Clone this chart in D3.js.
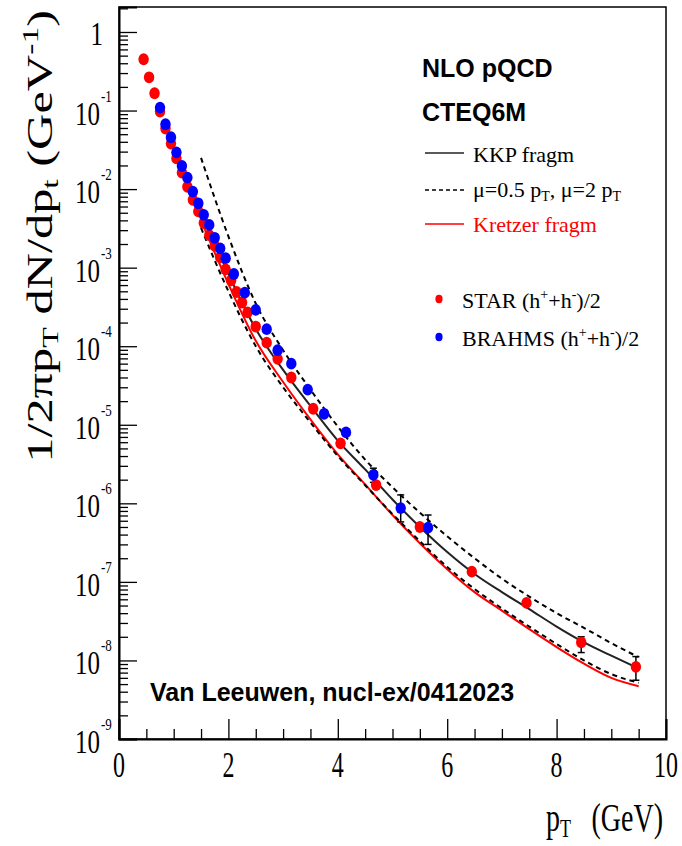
<!DOCTYPE html>
<html><head><meta charset="utf-8">
<script src="https://cdn.jsdelivr.net/npm/d3@7"></script>
<style>body{margin:0;background:#fff} svg{display:block}</style>
</head><body>
<svg id="chart" width="682" height="846"></svg>
<script>
// STAR (h+ + h-)/2
const starPt = [0.45,0.55,0.65,0.75,0.85,0.95,1.05,1.15,1.25,1.35,1.45,1.55,1.65,1.75,1.85,1.95,2.05,2.15,2.25,2.35,2.5,2.7,2.9,3.15,3.55,4.05,4.7,5.5,6.45,7.45,8.45,9.45];
const starY  = [0.45,0.265,0.166,0.097,0.059,0.038,0.0246,0.0162,0.0107,0.0073,0.0052,0.0037,0.0026,0.0019,0.00135,0.00095,0.00069,0.00049,0.00036,0.00027,0.000178,0.000111,6.9e-5,4.0e-5,1.6e-5,5.8e-6,1.71e-6,5.0e-7,1.35e-7,5.4e-8,1.7e-8,8.3e-9];
const starErrPt = [8.45, 9.45];
const starErrLo = [1.26e-8, 5.6e-9];
const starErrHi = [2.0e-8, 1.12e-8];

// BRAHMS (h+ + h-)/2
const brahmsPt = [0.75,0.85,0.95,1.05,1.15,1.25,1.35,1.45,1.55,1.65,1.75,1.85,1.95,2.1,2.3,2.5,2.7,2.9,3.15,3.45,3.75,4.15,4.65,5.15,5.65];
const brahmsY  = [0.109,0.067,0.0457,0.0294,0.0197,0.014,0.0093,0.0066,0.0047,0.0035,0.0024,0.00176,0.00132,0.00083,0.00048,0.00029,0.000165,8.9e-5,6.0e-5,2.8e-5,1.38e-5,8.0e-6,2.3e-6,8.7e-7,4.9e-7];
const brahmsErrPt = [4.65, 5.15, 5.65];
const brahmsErrLo = [1.85e-6, 5.8e-7, 3.0e-7];
const brahmsErrHi = [2.8e-6, 1.28e-6, 7.1e-7];

// NLO pQCD curves
const theoryPt = [1.5,2,2.5,3,3.5,4,4.5,5,5.5,6,6.5,7,7.5,8,8.5,9,9.5];
const kkp      = [5.0e-3,8.3e-4,1.66e-4,5.0e-5,1.74e-5,6.3e-6,2.7e-6,1.12e-6,5.0e-7,2.4e-7,1.26e-7,7.4e-8,4.5e-8,2.7e-8,1.7e-8,1.15e-8,7.9e-9];
const kretzer  = [4.0e-3,6.2e-4,1.17e-4,3.5e-5,1.17e-5,4.2e-6,1.74e-6,7.1e-7,3.1e-7,1.45e-7,7.4e-8,4.3e-8,2.5e-8,1.48e-8,9.1e-9,6.0e-9,4.7e-9];
const scaleHi  = [2.5e-2,2.5e-3,3.5e-4,8.9e-5,2.8e-5,9.5e-6,3.6e-6,1.6e-6,7.6e-7,3.8e-7,2.0e-7,1.1e-7,6.5e-8,4.0e-8,2.6e-8,1.66e-8,1.1e-8];
const scaleLo  = [3.2e-3,5.0e-4,1.0e-4,3.0e-5,1.07e-5,4.0e-6,1.7e-6,7.3e-7,3.3e-7,1.55e-7,8.1e-8,4.6e-8,2.7e-8,1.62e-8,1.0e-8,6.7e-9,5.2e-9];

const xTicks = [0,2,4,6,8,10];
const xTickLabels = ['0','2','4','6','8','10'];
const yExponents = [0,-1,-2,-3,-4,-5,-6,-7,-8,-9];

const SERIF = '"Liberation Serif", "Times New Roman", serif';
const SANS = '"Liberation Sans", Arial, sans-serif';

const svg = d3.select('#chart');
svg.append('rect').attr('width', 682).attr('height', 846).style('fill', '#fff');

const x = d3.scaleLinear().domain([0, 10]).range([119, 666]);
const y = d3.scaleLog().domain([1e-9, 2.08]).range([739, 7]);

// frame
svg.append('rect')
  .attr('x', 119).attr('y', 7)
  .attr('width', 666 - 119).attr('height', 739 - 7)
  .style('fill', 'none').style('stroke', '#000').style('stroke-width', 1.5);

// x axis ticks (inward)
const xMinor = d3.range(0, 10.01, 0.5).filter(v => v % 2 !== 0);
svg.append('g').attr('transform', 'translate(0,739)')
  .call(d3.axisTop(x).tickValues(xTicks).tickSize(20).tickFormat(''))
  .call(g => g.select('.domain').attr('stroke-width', 2));
svg.append('g').attr('transform', 'translate(0,739)')
  .call(d3.axisTop(x).tickValues(xMinor).tickSize(10).tickFormat(''))
  .call(g => g.select('.domain').remove());

// y axis ticks (inward)
const yMajor = yExponents.map(e => Math.pow(10, e));
const yMinor = [2];
yExponents.forEach(e => { if (e > -9) for (let m = 2; m <= 9; m++) yMinor.push(m * Math.pow(10, e - 1)); });
svg.append('g').attr('transform', 'translate(119,0)')
  .call(d3.axisRight(y).tickValues(yMajor).tickSize(18).tickFormat(''))
  .call(g => g.select('.domain').attr('stroke-width', 2));
svg.append('g').attr('transform', 'translate(119,0)')
  .call(d3.axisRight(y).tickValues(yMinor).tickSize(9).tickFormat(''))
  .call(g => g.select('.domain').remove());
svg.selectAll('.tick line').attr('stroke-width', 1.3);

// x tick labels
xTicks.forEach((v, i) => {
  svg.append('text')
    .attr('transform', `translate(${x(v)},777) scale(1,1.45)`)
    .attr('text-anchor', 'middle')
    .style('font-family', SERIF).style('font-size', '24px')
    .text(xTickLabels[i]);
});

// y tick labels
yExponents.forEach(e => {
  const ty = y(Math.pow(10, e));
  if (e === 0) {
    svg.append('text')
      .attr('transform', `translate(103,${ty + 13}) scale(1,1.35)`)
      .attr('text-anchor', 'end')
      .style('font-family', SERIF).style('font-size', '25px')
      .text('1');
  } else {
    svg.append('text')
      .attr('transform', `translate(100,${ty + 14}) scale(1,1.35)`)
      .attr('text-anchor', 'end')
      .style('font-family', SERIF).style('font-size', '25px')
      .text('10');
    svg.append('text')
      .attr('transform', `translate(101,${ty - 9}) scale(1,1.35)`)
      .style('font-family', SERIF).style('font-size', '13px')
      .text(String(e));
  }
});

// axis titles
svg.append('text')
  .attr('transform', 'translate(663,831) scale(1,1.45)')
  .attr('text-anchor', 'end')
  .style('font-family', SERIF).style('font-size', '28px')
  .text('(GeV)');
const xt = svg.append('text')
  .attr('transform', 'translate(571,831) scale(1,1.45)')
  .attr('text-anchor', 'end')
  .style('font-family', SERIF).style('font-size', '28px');
xt.append('tspan').text('p');
xt.append('tspan').attr('dy', 4).style('font-size', '18px').text('T');

const yt = svg.append('text')
  .attr('transform', 'translate(52,10) rotate(-90) scale(1.4,1)')
  .attr('text-anchor', 'end')
  .style('font-family', SERIF).style('font-size', '36px');
yt.append('tspan').text('1/2πp');
yt.append('tspan').attr('dy', 6).style('font-size', '24px').text('T');
yt.append('tspan').attr('dy', -6).text(' dN/dp');
yt.append('tspan').attr('dy', 6).style('font-size', '24px').text('t');
yt.append('tspan').attr('dy', -6).text(' (GeV');
yt.append('tspan').attr('dy', -14).style('font-size', '24px').text('-1');
yt.append('tspan').attr('dy', 14).text(')');

// theory curves
const line = d3.line().x(d => x(d[0])).y(d => y(d[1])).curve(d3.curveMonotoneX);
const curve = (vals, color, width, dash) => {
  svg.append('path')
    .datum(theoryPt.map((p, i) => [p, vals[i]]))
    .attr('d', line)
    .style('fill', 'none').style('stroke', color)
    .style('stroke-width', width)
    .style('stroke-dasharray', dash || null);
};
curve(kretzer, '#ff0000', 2);
curve(scaleLo, '#000', 2, '5,4');
curve(kkp, '#222', 2);
curve(scaleHi, '#000', 2, '5,4');

// error bars
const errBars = (pts, lo, hi) => {
  pts.forEach((p, i) => {
    const g = svg.append('g').style('stroke', '#000').style('stroke-width', 1.5);
    g.append('line').attr('x1', x(p)).attr('x2', x(p)).attr('y1', y(lo[i])).attr('y2', y(hi[i]));
    g.append('line').attr('x1', x(p) - 3.5).attr('x2', x(p) + 3.5).attr('y1', y(lo[i])).attr('y2', y(lo[i]));
    g.append('line').attr('x1', x(p) - 3.5).attr('x2', x(p) + 3.5).attr('y1', y(hi[i])).attr('y2', y(hi[i]));
  });
};
errBars(starErrPt, starErrLo, starErrHi);
errBars(brahmsErrPt, brahmsErrLo, brahmsErrHi);

// data points
svg.append('g').selectAll('ellipse')
  .data(starPt.map((p, i) => [p, starY[i]]))
  .join('ellipse')
  .attr('cx', d => x(d[0])).attr('cy', d => y(d[1]))
  .attr('rx', 5.2).attr('ry', 5.9)
  .style('fill', '#ff0000');
svg.append('g').selectAll('ellipse')
  .data(brahmsPt.map((p, i) => [p, brahmsY[i]]))
  .join('ellipse')
  .attr('cx', d => x(d[0])).attr('cy', d => y(d[1]))
  .attr('rx', 5.2).attr('ry', 5.9)
  .style('fill', '#0000ff');

// legend
svg.append('text').attr('x', 422).attr('y', 77)
  .style('font-family', SANS).style('font-weight', 'bold').style('font-size', '25px')
  .text('NLO pQCD');
svg.append('text').attr('x', 422).attr('y', 121)
  .style('font-family', SANS).style('font-weight', 'bold').style('font-size', '25px')
  .text('CTEQ6M');

const legLine = (ly, color, dash) => {
  svg.append('line').attr('x1', 425).attr('x2', 464).attr('y1', ly).attr('y2', ly)
    .style('stroke', color).style('stroke-width', 1.6)
    .style('stroke-dasharray', dash || null);
};
legLine(153, '#222');
legLine(190, '#000', '4,3');
legLine(224, '#ff0000');

svg.append('text').attr('x', 473).attr('y', 162)
  .style('font-family', SERIF).style('font-size', '22px').text('KKP fragm');
const mu = svg.append('text').attr('x', 473).attr('y', 197)
  .style('font-family', SERIF).style('font-size', '22px');
mu.append('tspan').text('μ=0.5 p');
mu.append('tspan').attr('dy', 4).style('font-size', '14px').text('T');
mu.append('tspan').attr('dy', -4).text(', μ=2 p');
mu.append('tspan').attr('dy', 4).style('font-size', '14px').text('T');
svg.append('text').attr('x', 473).attr('y', 232)
  .style('font-family', SERIF).style('font-size', '22px').style('fill', '#ff0000')
  .text('Kretzer fragm');

const legPoint = (ly, color, name) => {
  svg.append('ellipse').attr('cx', 439).attr('cy', ly).attr('rx', 3.6).attr('ry', 4.2).style('fill', color);
  const t = svg.append('text').attr('x', 462).attr('y', ly + 9)
    .style('font-family', SERIF).style('font-size', '22px');
  t.append('tspan').text(name + ' (h');
  t.append('tspan').attr('dy', -9).style('font-size', '14px').text('+');
  t.append('tspan').attr('dy', 9).text('+h');
  t.append('tspan').attr('dy', -9).style('font-size', '14px').text('-');
  t.append('tspan').attr('dy', 9).text(')/2');
};
legPoint(299, '#ff0000', 'STAR');
legPoint(337, '#0000ff', 'BRAHMS');

// citation
svg.append('text').attr('x', 150).attr('y', 701)
  .style('font-family', SANS).style('font-weight', 'bold').style('font-size', '25px')
  .text('Van Leeuwen, nucl-ex/0412023');
</script>
</body></html>
